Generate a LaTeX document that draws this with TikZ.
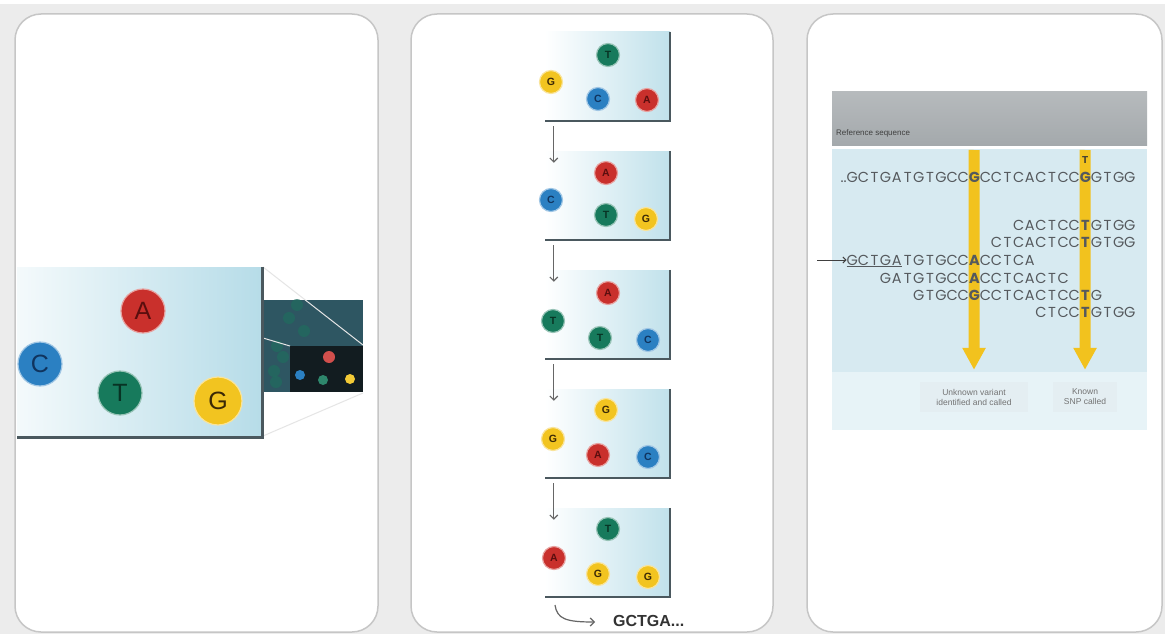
\documentclass[tikz,border=0pt]{standalone}
\usepackage{fontspec}
\setmainfont{Liberation Sans}
\newfontfamily\seqfont{Poppins}
\usetikzlibrary{arrows.meta}
\definecolor{bggrey}{HTML}{ECECEC}
\definecolor{pborder}{HTML}{C6C6C6}
\definecolor{boxblue}{HTML}{B6DCE8}
\definecolor{boxblueb}{HTML}{C0E1EB}
\definecolor{bdark}{HTML}{4A585E}
\definecolor{Af}{HTML}{C9302C}\definecolor{At}{HTML}{5A0E0E}
\definecolor{Cf}{HTML}{2B80C2}\definecolor{Ct}{HTML}{10345E}
\definecolor{Tf}{HTML}{177A5C}\definecolor{Tt}{HTML}{083324}
\definecolor{Gf}{HTML}{F2C420}\definecolor{Gt}{HTML}{3A2806}
\definecolor{insetteal}{HTML}{2E5662}
\definecolor{insetblack}{HTML}{121C20}
\definecolor{hdrgrey}{HTML}{A4A9AC}
\definecolor{seqbg}{HTML}{D7EAF1}
\definecolor{labbg}{HTML}{E4EEF2}
\definecolor{seqtext}{HTML}{55595D}
\definecolor{baryel}{HTML}{F2C21E}
\newlength\cw \setlength\cw{11.1pt}
\newcommand\sqloop[1]{\ifx#1\relax\else\makebox[\cw][c]{#1}\expandafter\sqloop\fi}
\newcommand\seqc[1]{\sqloop#1\relax}
\newcommand\boldnt[1]{\makebox[\cw][c]{\bfseries #1}}
\tikzset{
  nuc/.style 2 args={circle,inner sep=0pt,minimum size=#2,fill=#1f,text=#1t,draw=#1f!45!white,line width=1.2pt},
  bigl/.style={font=\fontsize{25}{25}\selectfont},
  smalll/.style={font=\fontsize{10.5}{10.5}\selectfont\bfseries},
  panel/.style={draw=pborder,line width=1.5pt,fill=white,rounded corners=26pt},
  stepbox/.style={inner sep=0pt,minimum width=125pt,minimum height=89pt,left color=white,right color=boxblueb},
  downarr/.style={draw=black!60,line width=1.2pt,-{Straight Barb[length=4pt,width=8pt]}},
  seqrow/.style={anchor=west,inner sep=0pt,text=seqtext,font=\seqfont\fontsize{14.5}{14.5}\selectfont},
  yelarr/.style={draw=baryel,line width=11pt,-{Triangle[length=22pt,width=22pt]}},
  labbox/.style={fill=labbg,text=black!55,align=center,inner sep=2pt,font=\fontsize{8.5}{10}\selectfont,minimum height=30pt}
}
\begin{document}
\begin{tikzpicture}[x=1pt,y=-1pt]
\useasboundingbox (0,0) rectangle (1165,634);
% background
\fill[bggrey] (0,0) rectangle (1165,634);
\fill[white] (0,0) rectangle (1165,4);
% panels
\path[panel] (15,14) rectangle (378,632);
\path[panel] (411,14) rectangle (773,632);
\path[panel] (807,14) rectangle (1162,632);

% ---------- panel 1 ----------
\shade[left color=boxblue!15!white,right color=boxblue] (17,267) rectangle (262,437);
\fill[insetteal] (262,300) rectangle (363,392);
\foreach \p in {(297,305),(304,331),(277,346),(283,357),(274,371),(276,382),(289,318)}
  \fill[Tf!60!insetteal,opacity=.7] \p circle (6);
\fill[insetblack] (290,346) rectangle (363,392);
\fill[Af!85!white] (329,357) circle (6);
\fill[Cf] (300,375) circle (5);
\fill[Tf!90!white] (323,380) circle (5);
\fill[Gf!90!white] (350,379) circle (5);
\draw[white!80!gray,line width=1pt] (263,267) -- (363,345);
\draw[white!80!gray,line width=1pt] (263,338) -- (290,346);
\draw[white!80!gray,line width=1pt] (263,436) -- (363,393);
\draw[bdark,line width=3pt] (262,267) -- (262,437) -- (17,437);
\node[nuc={A}{44pt},bigl] (p1A) at (143,311) {A};
\node[nuc={C}{44pt},bigl] (p1C) at (40,364) {C};
\node[nuc={T}{44pt},bigl] (p1T) at (120,393) {T};
\node[nuc={G}{48pt},bigl] (p1G) at (218,401) {G};

% ---------- panel 2 ----------
\foreach \i in {1,...,5}{
  \node[stepbox] (b\i) at (607.5,{76.5+119*(\i-1)}) {};
  \draw[bdark,line width=2.5pt] (b\i.north east) -- (b\i.south east) -- (b\i.south west);
}
\foreach \i/\j in {1/2,2/3,3/4,4/5}
  \draw[downarr] ([xshift=9pt,yshift=-5pt]b\i.south west) -- ([xshift=9pt,yshift=-12pt]b\j.north west);
% box 1
\node[nuc={T}{23pt},smalll] (n1a) at (608,55) {T};
\node[nuc={G}{23pt},smalll] (n1b) at (551,82) {G};
\node[nuc={C}{23pt},smalll] (n1c) at (598,99) {C};
\node[nuc={A}{23pt},smalll] (n1d) at (647,100) {A};
% box 2
\node[nuc={A}{23pt},smalll] (n2a) at (606,173) {A};
\node[nuc={C}{23pt},smalll] (n2b) at (551,200) {C};
\node[nuc={T}{23pt},smalll] (n2c) at (606,215) {T};
\node[nuc={G}{23pt},smalll] (n2d) at (646,219) {G};
% box 3
\node[nuc={A}{23pt},smalll] (n3a) at (608,293) {A};
\node[nuc={T}{23pt},smalll] (n3b) at (553,321) {T};
\node[nuc={T}{23pt},smalll] (n3c) at (600,338) {T};
\node[nuc={C}{23pt},smalll] (n3d) at (648,340) {C};
% box 4
\node[nuc={G}{23pt},smalll] (n4a) at (606,410) {G};
\node[nuc={G}{23pt},smalll] (n4b) at (553,439) {G};
\node[nuc={A}{23pt},smalll] (n4c) at (598,455) {A};
\node[nuc={C}{23pt},smalll] (n4d) at (648,457) {C};
% box 5
\node[nuc={T}{23pt},smalll] (n5a) at (608,529) {T};
\node[nuc={A}{23pt},smalll] (n5b) at (554,558) {A};
\node[nuc={G}{23pt},smalll] (n5c) at (598,574) {G};
\node[nuc={G}{23pt},smalll] (n5d) at (648,577) {G};
% result
\node[anchor=west,inner sep=0pt,text=black!80,font=\fontsize{16}{16}\selectfont\bfseries] (res) at (613,621) {GCTGA...};
\coordinate (cstart) at (555,605);
\coordinate (cend) at (595,622);
\draw[downarr] (cstart) .. controls (557,619) and (566,622) .. (cend);

% ---------- panel 3 ----------
\shade[top color=hdrgrey!80!white,bottom color=hdrgrey] (832,92) rectangle (1147,145);
\node[anchor=west,inner sep=0pt,text=black!75,font=\fontsize{8}{8}\selectfont] (reftitle) at (836,133) {Reference sequence};
\fill[seqbg] (832,149) rectangle (1147,430);
\fill[seqbg!60!white] (832,372) rectangle (1147,430);
\node[labbox,minimum width=108pt] (lab1) at (974,397) {Unknown variant\\identified and called};
\node[labbox,minimum width=64pt] (lab2) at (1085,397) {Known\\SNP called};
\coordinate (bar1top) at (974.2,150);
\coordinate (bar2top) at (1085.2,150);
\draw[yelarr] (bar1top) -- ([yshift=12pt]lab1.north);
\draw[yelarr] (bar2top) -- ([yshift=12pt]lab2.north);
\node[anchor=center,inner sep=0pt,text=black!80,font=\fontsize{10}{10}\selectfont\bfseries] (snpT) at (1085.2,160) {T};
\node[seqrow] (ref) at (846.5,177) {\llap{..}\seqc{GCTGATGTGCC}\boldnt{G}\seqc{CCTCACTCC}\boldnt{G}\seqc{GTGG}};
\node[seqrow] (r1) at (1013,225) {\seqc{CACTCC}\boldnt{T}\seqc{GTGG}};
\node[seqrow] (r2) at (990.8,242) {\seqc{CTCACTCC}\boldnt{T}\seqc{GTGG}};
\node[seqrow] (r3) at (846.5,260) {\seqc{GCTGATGTGCC}\boldnt{A}\seqc{CCTCA}};
\node[seqrow] (r4) at (879.8,278) {\seqc{GATGTGCC}\boldnt{A}\seqc{CCTCACTC}};
\node[seqrow] (r5) at (913.1,295) {\seqc{GTGCC}\boldnt{G}\seqc{CCTCACTCC}\boldnt{T}\seqc{G}};
\node[seqrow] (r6) at (1035.2,312) {\seqc{CTCC}\boldnt{T}\seqc{GTGG}};
\draw[seqtext,line width=0.9pt] ([yshift=-1.5pt]r3.south west) -- ++(55.5,0);
\coordinate (readarr) at (817,260);
\draw[black!75,line width=0.9pt,-{Straight Barb[length=3pt,width=6pt]}] (readarr) -- (r3.west);
\end{tikzpicture}
\end{document}
